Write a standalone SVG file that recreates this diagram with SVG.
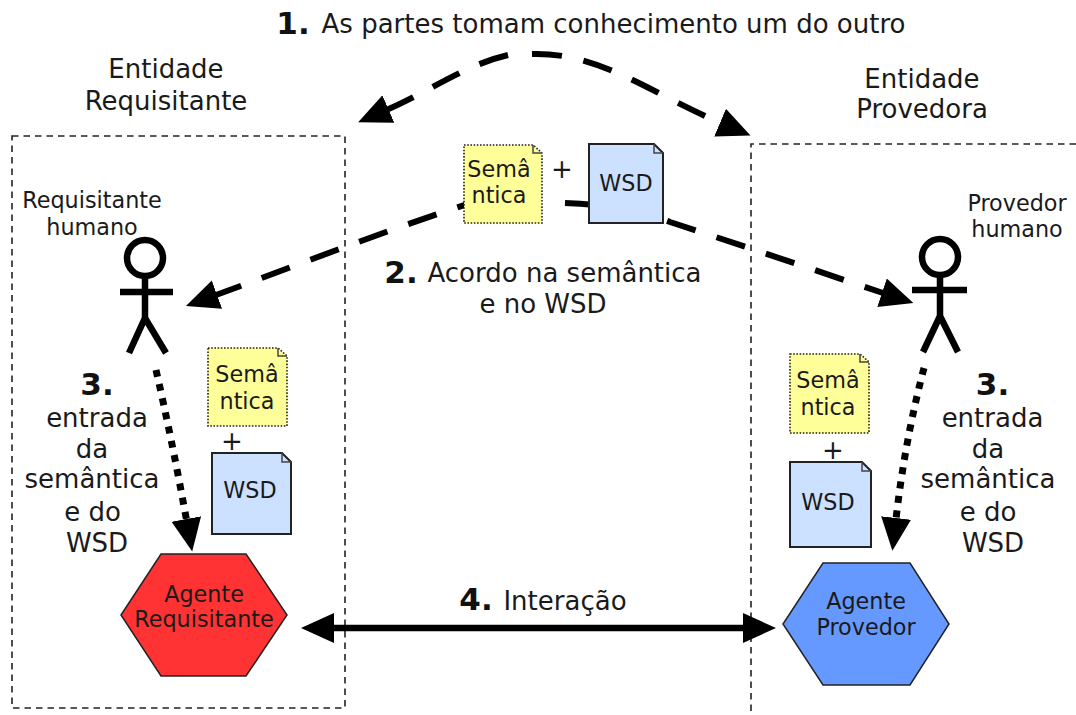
<svg xmlns="http://www.w3.org/2000/svg" width="1076" height="715" viewBox="0 0 1076 715">
<style>
text{font-family:"DejaVu Sans",Verdana,sans-serif;fill:#1a1a1a;text-anchor:middle}
.l{font-size:26px}
.s{font-size:22.3px}
.b{font-size:31px;font-weight:bold;fill:#111}
.region{fill:none;stroke:#222;stroke-width:1.6;stroke-dasharray:6.5 5}
.dash{fill:none;stroke:#000;stroke-width:6;stroke-dasharray:30 22}
.dot{fill:none;stroke:#000;stroke-width:7;stroke-dasharray:7 7.5}
.solid{fill:none;stroke:#000;stroke-width:6.5}
.sem{fill:#ffff99;stroke:#222;stroke-width:1.6;stroke-dasharray:1.6 1.6}
.wsd{fill:#cce0ff;stroke:#222;stroke-width:2}
.fold{fill:none;stroke:#444;stroke-width:1.5}
.stick{fill:none;stroke:#000;stroke-width:6.5}
.hex{stroke:#222;stroke-width:1.5}
</style>
<defs>
<marker id="head" markerUnits="userSpaceOnUse" markerWidth="34" markerHeight="32" refX="1" refY="15.5" viewBox="0 0 34 32" orient="auto-start-reverse"><path d="M0,0.5 L33,15.5 L0,30.5 Z" fill="#000"/></marker>
</defs>
<g id="regions">
<path id="region-requester" class="region" d="M12,136 H345 V708 H12 Z"/>
<path id="region-provider" class="region" d="M1076,144 H751 V715"/>
</g>
<g id="connectors">
<path class="dash" d="M508,55 C465,65 430,91 387.5,109.5" marker-end="url(#head)"/>
<path class="dash" d="M532,54 C600,52 650,93 721,123" marker-end="url(#head)"/>
<path class="dash" d="M486,198 C380,232 290,268 216,295" marker-end="url(#head)"/>
<path class="dash" d="M565,203 Q625,205 670,222 C750,248 820,272 883,293" marker-end="url(#head)"/>
<path class="dot" d="M156,370 Q172,440 186.5,520" marker-end="url(#head)"/>
<path class="dot" d="M924,368 Q905,440 896,519" marker-end="url(#head)"/>
<path class="solid" d="M333,628 H744" marker-start="url(#head)" marker-end="url(#head)"/>
</g>
<g id="step1"><text class="l" x="613.5" y="33">As partes tomam conhecimento um do outro</text><text class="b" x="293" y="34">1.</text></g>
<g id="entity-requester"><text class="l" x="166" y="78">Entidade</text><text class="l" x="166" y="110">Requisitante</text></g>
<g id="entity-provider"><text class="l" x="922" y="88">Entidade</text><text class="l" x="922" y="118">Provedora</text></g>
<g id="semantica-top">
<path class="sem" d="M464,145 H533 L542,153 V223 H464 Z"/><path class="fold" d="M533,145 V153 H542"/>
<text class="s" x="499" y="177">Semâ</text><text class="s" x="499" y="203">ntica</text>
</g>
<g id="plus-top"><text class="l" x="562" y="178">+</text></g>
<g id="wsd-top">
<path class="wsd" d="M589,144 H654 L663,153 V223 H589 Z"/><path class="fold" d="M654,144 V153 H663"/>
<text class="s" x="626" y="191">WSD</text>
</g>
<g id="step2"><text class="b" x="401" y="283">2.</text><text class="l" x="564.5" y="282">Acordo na semântica</text><text class="l" x="543" y="313">e no WSD</text></g>
<g id="human-requester">
<text class="s" x="92" y="208">Requisitante</text><text class="s" x="92" y="235">humano</text>
<path class="stick" d="M145,278 V318 M120,292 H173 M129,353 L145,318 L166,353"/><circle class="stick" cx="145" cy="258" r="18"/>
</g>
<g id="human-provider">
<text class="s" x="1017" y="211">Provedor</text><text class="s" x="1017" y="237">humano</text>
<path class="stick" d="M940,277 V316 M912,290 H967 M923,352 L940,316 L958,352"/><circle class="stick" cx="940" cy="257" r="18"/>
</g>
<g id="step3-requester">
<text class="b" x="97" y="395">3.</text><text class="l" x="97" y="427">entrada</text><text class="l" x="92" y="458">da</text><text class="l" x="92" y="488">semântica</text><text class="l" x="92.5" y="521">e do</text><text class="l" x="97" y="552">WSD</text>
</g>
<g id="step3-provider">
<text class="b" x="992.5" y="395">3.</text><text class="l" x="992.5" y="427">entrada</text><text class="l" x="988" y="458">da</text><text class="l" x="988" y="488">semântica</text><text class="l" x="988" y="521">e do</text><text class="l" x="993" y="552">WSD</text>
</g>
<g id="semantica-requester">
<path class="sem" d="M208,348 H278 L287,356 V426 H208 Z"/><path class="fold" d="M278,348 V356 H287"/>
<text class="s" x="247" y="382">Semâ</text><text class="s" x="247" y="409">ntica</text>
</g>
<g id="plus-requester"><text class="l" x="232" y="450">+</text></g>
<g id="wsd-requester">
<path class="wsd" d="M212,453 H282 L291,462 V534 H212 Z"/><path class="fold" d="M282,453 V462 H291"/>
<text class="s" x="250" y="498">WSD</text>
</g>
<g id="semantica-provider">
<path class="sem" d="M790,354 H860 L869,362 V433 H790 Z"/><path class="fold" d="M860,354 V362 H869"/>
<text class="s" x="828" y="388">Semâ</text><text class="s" x="828" y="415">ntica</text>
</g>
<g id="plus-provider"><text class="l" x="833" y="459">+</text></g>
<g id="wsd-provider">
<path class="wsd" d="M790,462 H862 L871,471 V547 H790 Z"/><path class="fold" d="M862,462 V471 H871"/>
<text class="s" x="828" y="510">WSD</text>
</g>
<g id="agent-requester">
<path class="hex" fill="#ff3333" d="M161,554 H246 L287,615 L246,676 H161 L121,615 Z"/>
<text class="s" x="204" y="602">Agente</text><text class="s" x="204" y="627">Requisitante</text>
</g>
<g id="agent-provider">
<path class="hex" fill="#6699ff" d="M823,563 H910 L949,624 L910,685 H823 L783,624 Z"/>
<text class="s" x="866" y="609">Agente</text><text class="s" x="866" y="635">Provedor</text>
</g>
<g id="step4"><text class="b" x="476" y="610">4.</text><text class="l" x="565" y="610">Interação</text></g>
</svg>
